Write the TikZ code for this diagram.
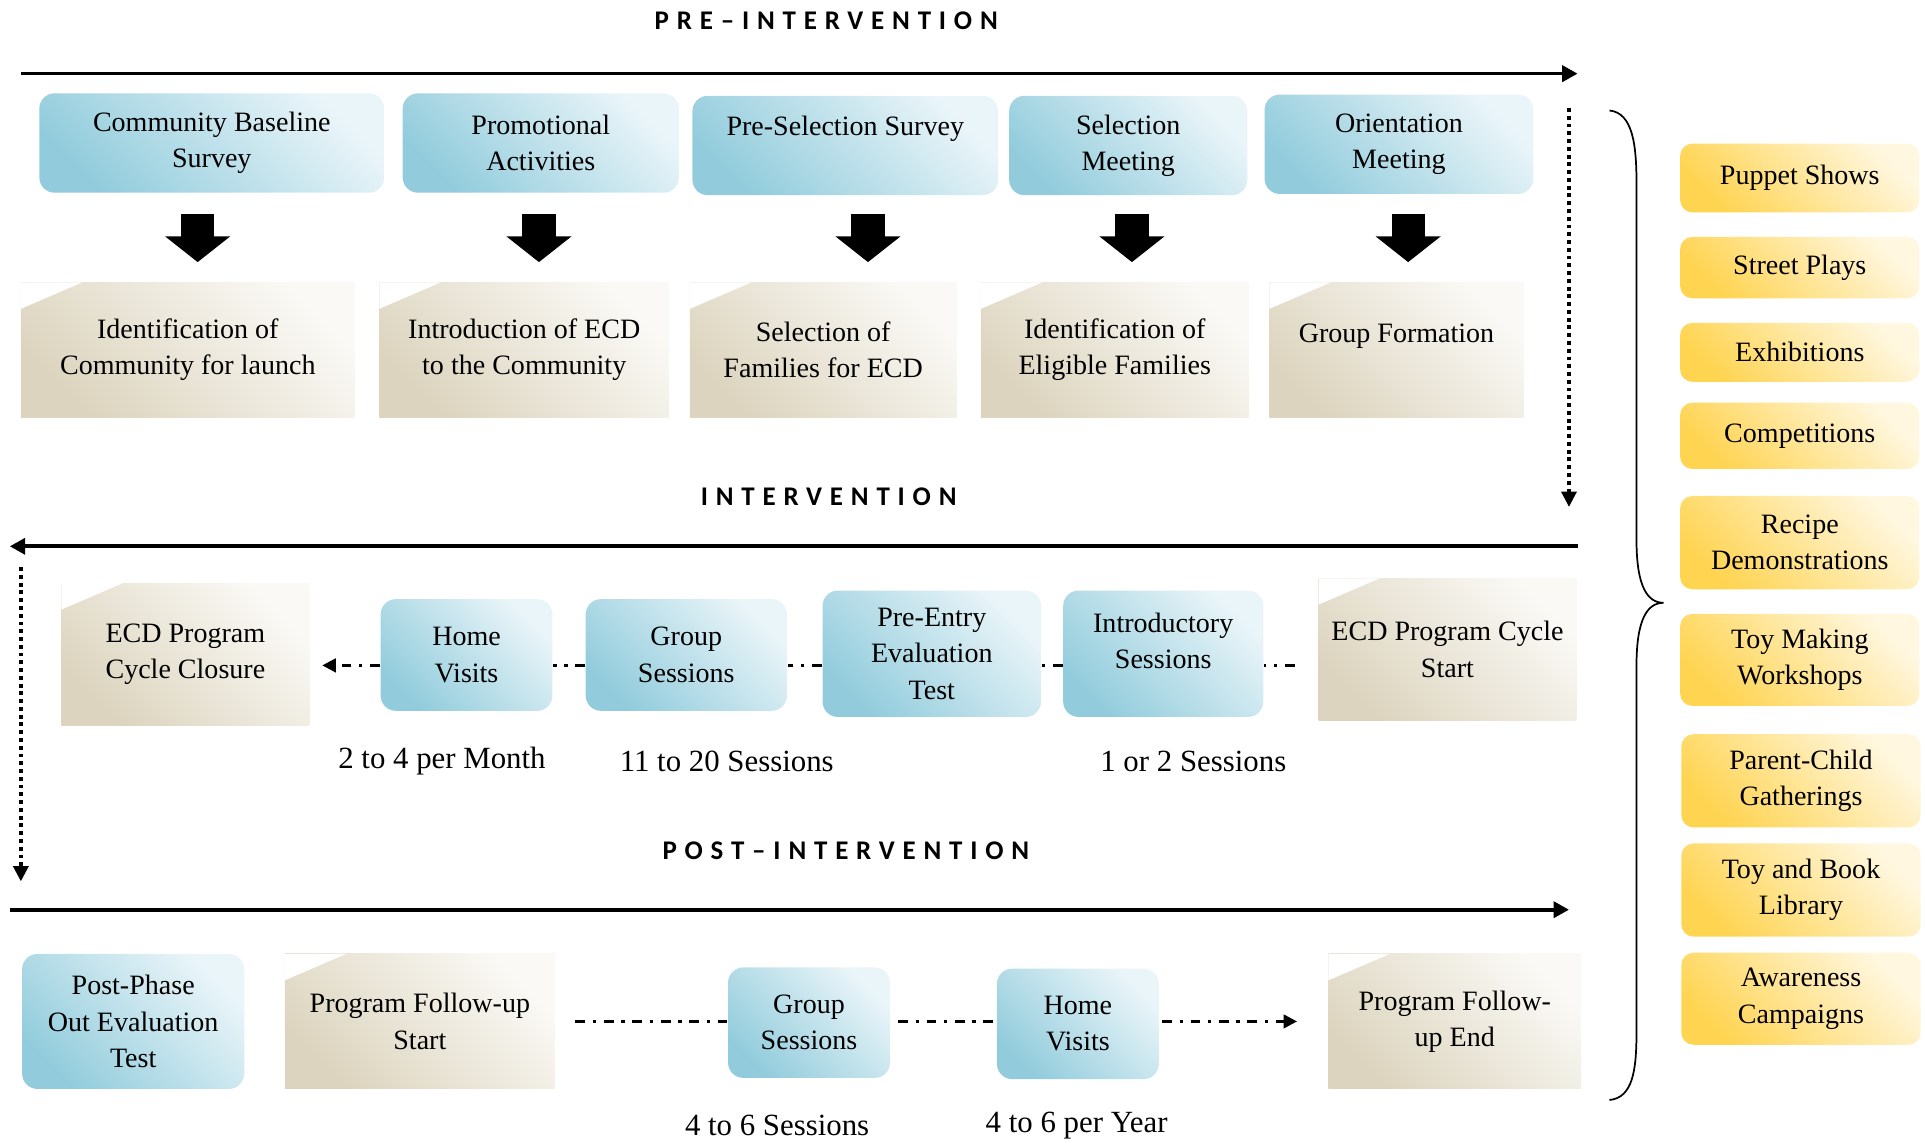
\documentclass[tikz,border=0pt]{standalone}
\usepackage{fontspec}
\setmainfont{Liberation Serif}
\newfontfamily\phasefont[LetterSpace=29]{Carlito}
\usepackage{tikz}
\usetikzlibrary{arrows.meta}
\definecolor{bluedark}{HTML}{92CCDC}
\definecolor{bluelite}{HTML}{EAF5F9}
\definecolor{beigedark}{HTML}{DCD4BE}
\definecolor{beigelite}{HTML}{FAF9F5}
\definecolor{golddark}{HTML}{FFD451}
\definecolor{goldlite}{HTML}{FFF7E0}

\begin{document}
\begin{tikzpicture}[x=0.02cm,y=-0.02cm,semithick]
  \tikzstyle{every node}=[align=center, inner sep=2pt, font=\fontsize{13}{16.8}\selectfont]
  \tikzstyle{activity}=[rectangle, rounded corners=0.25cm, top color=bluelite,
                        bottom color=bluedark, shading angle=-45]
  \tikzstyle{outcome}=[rectangle, top color=beigelite, bottom color=beigedark, shading angle=-45,
                       path picture={\fill[white] (path picture bounding box.north west)
                         -- ++(1.0cm,0) -- ++(-1.0cm,-0.43cm) -- cycle;}]
  \tikzstyle{outreach}=[rectangle, rounded corners=0.2cm, top color=goldlite,
                        bottom color=golddark, shading angle=-45, minimum width=3.9cm]
  \tikzstyle{lab}=[font=\fontsize{14.3}{17}\selectfont]
  \tikzstyle{phase}=[font=\phasefont\bfseries\fontsize{12.5}{15}\selectfont]
  \tikzstyle{flow}=[line width=1.7pt, -{Triangle[length=0.25cm,width=0.26cm]}]
  \tikzstyle{drop}=[line width=1.8pt, dash pattern=on 1.8pt off 1.8pt,
                    -{Triangle[length=0.25cm,width=0.24cm]}]
  \tikzstyle{hop}=[line width=1.3pt, dash pattern=on 4.6pt off 3.5pt on 1.6pt off 3.5pt]
  \tikzstyle{hoptip}=[-{Triangle[length=0.22cm,width=0.22cm]}]
  \tikzstyle{push}=[line width=0.54cm, -{Triangle[length=0.42cm,width=1.04cm]}]

  \useasboundingbox (0,0) rectangle (1568,932);

  \node[phase] (T1) at (673,17)  {PRE–INTERVENTION};
  \node[phase] (T2) at (675,405) {INTERVENTION};
  \node[phase] (T3) at (689,693) {POST–INTERVENTION};

  \coordinate (preS)  at (17,60);
  \coordinate (preE)  at (1285,60);
  \coordinate (midS)  at (1285,445);
  \coordinate (midE)  at (8,445);
  \coordinate (postS) at (8,741);
  \coordinate (postE) at (1278,741);
  \coordinate (dropA) at (1278,88);
  \coordinate (dropB) at (1278,413);
  \coordinate (dropC) at (17,462);
  \coordinate (dropD) at (17,718);
  \coordinate (midrow) at (0,542);
  \coordinate (botrow) at (0,832);

  \node[activity, minimum width=5.62cm, minimum height=1.62cm] (B1) at (172.5,116.5) {Community Baseline\\Survey};
  \node[activity, minimum width=4.5cm,  minimum height=1.62cm] (B2) at (440.5,116.5) {Promotional\\Activities};
  \node[activity, minimum width=4.98cm, minimum height=1.62cm] (B3) at (688.5,118.5) {Pre-Selection Survey\\[0.04cm]\mbox{}};
  \node[activity, minimum width=3.88cm, minimum height=1.62cm] (B4) at (919,118.5)   {Selection\\Meeting};
  \node[activity, minimum width=4.38cm, minimum height=1.62cm] (B5) at (1139.5,117.5) {Orientation\\Meeting};

  \node[outcome, minimum width=5.44cm, minimum height=2.2cm] (G1) at (153,285)    {Identification of\\Community for launch};
  \node[outcome, minimum width=4.72cm, minimum height=2.2cm] (G2) at (427,285)    {Introduction of ECD\\to the Community};
  \node[outcome, minimum width=4.34cm, minimum height=2.2cm] (G3) at (670.5,285)  {Selection of\\Families for ECD};
  \node[outcome, minimum width=4.36cm, minimum height=2.2cm] (G4) at (908,285)    {Identification of\\Eligible Families};
  \node[outcome, minimum width=4.14cm, minimum height=2.2cm] (G5) at (1137.5,285) {Group Formation\\[-0.04cm]\mbox{}};

  \draw[push] ([xshift=-0.23cm,yshift=-0.34cm]B1.south) -- ++(0,39);
  \draw[push] ([xshift=-0.03cm,yshift=-0.34cm]B2.south) -- ++(0,39);
  \draw[push] ([xshift=0.37cm,yshift=-0.30cm]B3.south)  -- ++(0,39);
  \draw[push] ([xshift=0.06cm,yshift=-0.30cm]B4.south)  -- ++(0,39);
  \draw[push] ([xshift=0.15cm,yshift=-0.32cm]B5.south)  -- ++(0,39);

  \node[outcome,  minimum width=4.04cm, minimum height=2.32cm] (M1) at (151,533)    {ECD Program\\Cycle Closure};
  \node[activity, minimum width=2.8cm,  minimum height=1.82cm] (M2) at (380,533.5)  {Home\\Visits};
  \node[activity, minimum width=3.28cm, minimum height=1.82cm] (M3) at (559,533.5)  {Group\\Sessions};
  \node[activity, minimum width=3.56cm, minimum height=2.06cm] (M4) at (759,532.5)  {Pre-Entry\\Evaluation\\Test};
  \node[activity, minimum width=3.26cm, minimum height=2.06cm] (M5) at (947.5,532.5) {Introductory\\Sessions\\[-0.18cm]\mbox{}};
  \node[outcome,  minimum width=4.2cm,  minimum height=2.32cm] (M6) at (1179,529)   {ECD Program Cycle\\Start};

  \node[lab] (L1) at (360,620) {2 to 4 per Month};
  \node[lab] (L2) at (592,620) {11 to 20 Sessions};
  \node[lab] (L3) at (972,620) {1 or 2 Sessions};

  \node[activity, minimum width=3.62cm, minimum height=2.2cm] (P1) at (108.5,832) {Post-Phase\\Out Evaluation\\Test};
  \node[outcome,  minimum width=4.4cm,  minimum height=2.2cm] (P2) at (342,832)   {Program Follow-up\\Start};
  \node[activity, minimum width=2.64cm, minimum height=1.8cm] (P3) at (659,833)   {Group\\Sessions};
  \node[activity, minimum width=2.64cm, minimum height=1.8cm] (P4) at (878,834)   {Home\\Visits};
  \node[outcome,  minimum width=4.12cm, minimum height=2.2cm] (P5) at (1185,832)  {Program Follow-\\up End};

  \node[lab] (L4) at (633,917) {4 to 6 Sessions};
  \node[lab] (L5) at (877,917) {4 to 6 per Year};

  \node[outreach, minimum height=1.12cm] (Y1) at (1466,145)   {Puppet Shows};
  \node[outreach, minimum height=1.0cm]  (Y2) at (1466,218)   {Street Plays};
  \node[outreach, minimum height=0.96cm] (Y3) at (1466,287)   {Exhibitions};
  \node[outreach, minimum height=1.08cm] (Y4) at (1466,355)   {Competitions};
  \node[outreach, minimum height=1.52cm] (Y5) at (1466,442)   {Recipe\\Demonstrations};
  \node[outreach, minimum height=1.5cm]  (Y6) at (1466,537.5) {Toy Making\\Workshops};
  \node[outreach, minimum height=1.52cm] (Y7) at (1467,636)   {Parent-Child\\Gatherings};
  \node[outreach, minimum height=1.52cm] (Y8) at (1467,725)   {Toy and Book\\Library};
  \node[outreach, minimum height=1.5cm]  (Y9) at (1467,813.5) {Awareness\\Campaigns};

  \draw[flow] (preS) -- (preE);
  \draw[flow] (midS) -- (midE);
  \draw[flow] (postS) -- (postE);
  \draw[drop] (dropA) -- (dropB);
  \draw[drop] (dropC) -- (dropD);

  \draw[hop, shorten <=0.38cm] (M6.west |- midrow) -- (M5.east |- midrow);
  \draw[hop] (M5.west |- midrow) -- (M4.east |- midrow);
  \draw[hop] (M4.west |- midrow) -- (M3.east |- midrow);
  \draw[hop] (M3.west |- midrow) -- (M2.east |- midrow);
  \draw[hop, hoptip, shorten >=0.2cm] (M2.west |- midrow) -- (M1.east |- midrow);

  \draw[hop, shorten <=0.32cm] (P2.east |- botrow) -- (P3.west |- botrow);
  \draw[hop, shorten <=0.12cm] (P3.east |- botrow) -- (P4.west |- botrow);
  \draw[hop, hoptip, shorten <=0.04cm, shorten >=0.5cm] (P4.east |- botrow) -- (P5.west |- botrow);

  \draw[line width=0.8pt] (1311,90) .. controls (1330,92) and (1333,118) .. (1333,150)
        -- (1333,440) .. controls (1333,478) and (1342,491) .. (1355,491)
        .. controls (1342,491) and (1333,504) .. (1333,542)
        -- (1333,840) .. controls (1333,872) and (1330,894) .. (1311,896);
\end{tikzpicture}
\end{document}
